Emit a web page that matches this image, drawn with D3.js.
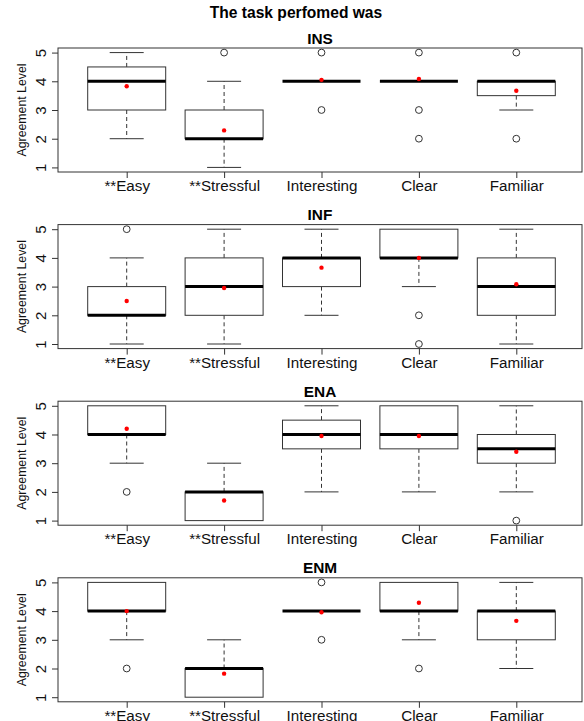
<!DOCTYPE html>
<html>
<head>
<meta charset="utf-8">
<script src="https://cdn.jsdelivr.net/npm/d3@7"></script>
<style>
  body { margin: 0; background: #fff; }
  svg { display: block; font-family: "Liberation Sans", Arial, Helvetica, sans-serif; }
</style>
</head>
<body>
<script>
// categories and panels
const categories = ['**Easy', '**Stressful', 'Interesting', 'Clear', 'Familiar'];
const panelNames = ['INS', 'INF', 'ENA', 'ENM'];
const yTicks = [1, 2, 3, 4, 5];

// five-number summaries per category: [lower whisker, q1, median, q3, upper whisker]
const insStats = [[2, 3, 4, 4.5, 5], [1, 2, 2, 3, 4], [4, 4, 4, 4, 4], [4, 4, 4, 4, 4], [3, 3.5, 4, 4, 4]];
const infStats = [[1, 2, 2, 3, 4], [1, 2, 3, 4, 5], [2, 3, 4, 4, 5], [3, 4, 4, 5, 5], [1, 2, 3, 4, 5]];
const enaStats = [[3, 4, 4, 5, 5], [1, 1, 2, 2, 3], [2, 3.5, 4, 4.5, 5], [2, 3.5, 4, 5, 5], [2, 3, 3.5, 4, 5]];
const enmStats = [[3, 4, 4, 5, 5], [1, 1, 2, 2, 3], [4, 4, 4, 4, 4], [3, 4, 4, 5, 5], [2, 3, 4, 4, 5]];

// means (red dots)
const insMeans = [3.83, 2.29, 4.05, 4.08, 3.67];
const infMeans = [2.5, 2.95, 3.66, 4.0, 3.08];
const enaMeans = [4.2, 1.7, 3.95, 3.95, 3.4];
const enmMeans = [4.0, 1.82, 3.96, 4.29, 3.66];

// outliers
const insOutliers = [[], [5], [5, 3], [5, 3, 2], [5, 2]];
const infOutliers = [[5], [], [], [2, 1], []];
const enaOutliers = [[2], [], [], [], [1]];
const enmOutliers = [[2], [], [5, 3], [2], []];

const allStats = [insStats, infStats, enaStats, enmStats];
const allMeans = [insMeans, infMeans, enaMeans, enmMeans];
const allOutliers = [insOutliers, infOutliers, enaOutliers, enmOutliers];

// layout
const width = 584, height = 721;
const frameLeft = 58, frameRight = 582;
const firstTop = 48, pitch = 176.6, frameH = 124;
const boxHalf = 39, stapleHalf = 17;
const lineCol = '#333';

const svg = d3.select('body').append('svg')
  .attr('width', width)
  .attr('height', height);

// main title
svg.append('text')
  .attr('x', 296)
  .attr('y', 17.5)
  .attr('text-anchor', 'middle')
  .style('font-weight', 'bold')
  .style('font-size', '15.6px')
  .text('The task perfomed was');

const x = d3.scalePoint()
  .domain(categories)
  .range([126.7, 516.3]);

panelNames.forEach((name, i) => {
  const top = firstTop + i * pitch;
  const y = d3.scaleLinear().domain([0.84, 5.16]).range([top + frameH, top]);
  const stats = allStats[i], means = allMeans[i], outs = allOutliers[i];

  const g = svg.append('g');

  // panel title
  g.append('text')
    .attr('x', (frameLeft + frameRight) / 2)
    .attr('y', top - 4.5)
    .attr('text-anchor', 'middle')
    .style('font-weight', 'bold')
    .style('font-size', '15.4px')
    .text(name);

  // y axis
  const yAxis = g.append('g')
    .attr('transform', `translate(${frameLeft}, 0)`)
    .call(d3.axisLeft(y).tickValues(yTicks).tickSize(6).tickFormat(d3.format('d')));
  yAxis.select('.domain').remove();
  yAxis.selectAll('line').attr('stroke', lineCol);
  yAxis.selectAll('text')
    .attr('transform', 'rotate(-90)')
    .attr('x', 0)
    .attr('y', -12.5)
    .attr('dy', 0)
    .attr('text-anchor', 'middle')
    .attr('fill', '#111')
    .style('font-size', '15px')
    .style('font-family', null);

  // y label
  g.append('text')
    .attr('transform', `translate(26, ${top + frameH / 2}) rotate(-90)`)
    .attr('text-anchor', 'middle')
    .style('font-size', '12.3px')
    .attr('fill', '#111')
    .text('Agreement Level');

  // x axis
  const xAxis = g.append('g')
    .attr('transform', `translate(0, ${top + frameH})`)
    .call(d3.axisBottom(x).tickSize(6));
  xAxis.select('.domain').remove();
  xAxis.selectAll('line').attr('stroke', lineCol);
  xAxis.selectAll('text')
    .attr('y', 19)
    .attr('dy', 0)
    .attr('fill', '#111')
    .style('font-size', '15.2px')
    .style('font-family', null);

  // frame
  g.append('rect')
    .attr('x', frameLeft)
    .attr('y', top)
    .attr('width', frameRight - frameLeft)
    .attr('height', frameH)
    .attr('fill', 'none')
    .attr('stroke', lineCol)
    .attr('stroke-width', 1);

  const boxes = g.selectAll('g.box')
    .data(stats.map((s, j) => ({cat: categories[j], s: s, mean: means[j], outs: outs[j]})))
    .join('g')
    .attr('class', 'box');

  boxes.each(function (d) {
    const b = d3.select(this);
    const cx = x(d.cat);
    const [lo, q1, med, q3, hi] = d.s;

    // whiskers
    if (lo < q1) {
      b.append('line')
        .attr('x1', cx).attr('x2', cx)
        .attr('y1', y(q1)).attr('y2', y(lo))
        .attr('stroke', lineCol).attr('stroke-dasharray', '4,3');
      b.append('line')
        .attr('x1', cx - stapleHalf).attr('x2', cx + stapleHalf)
        .attr('y1', y(lo)).attr('y2', y(lo))
        .attr('stroke', lineCol);
    }
    if (hi > q3) {
      b.append('line')
        .attr('x1', cx).attr('x2', cx)
        .attr('y1', y(q3)).attr('y2', y(hi))
        .attr('stroke', lineCol).attr('stroke-dasharray', '4,3');
      b.append('line')
        .attr('x1', cx - stapleHalf).attr('x2', cx + stapleHalf)
        .attr('y1', y(hi)).attr('y2', y(hi))
        .attr('stroke', lineCol);
    }

    // box
    if (q3 > q1) {
      b.append('rect')
        .attr('x', cx - boxHalf)
        .attr('y', y(q3))
        .attr('width', boxHalf * 2)
        .attr('height', y(q1) - y(q3))
        .attr('fill', 'white')
        .attr('stroke', lineCol);
    }

    // median
    b.append('line')
      .attr('x1', cx - boxHalf).attr('x2', cx + boxHalf)
      .attr('y1', y(med)).attr('y2', y(med))
      .attr('stroke', '#000')
      .attr('stroke-width', 3);

    // outliers
    b.selectAll('circle.out')
      .data(d.outs)
      .join('circle')
      .attr('class', 'out')
      .attr('cx', cx)
      .attr('cy', v => y(v))
      .attr('r', 3.4)
      .attr('fill', 'none')
      .attr('stroke', lineCol);

    // mean
    b.append('circle')
      .attr('cx', cx)
      .attr('cy', y(d.mean))
      .attr('r', 2.2)
      .attr('fill', '#f00');
  });
});
</script>
</body>
</html>
